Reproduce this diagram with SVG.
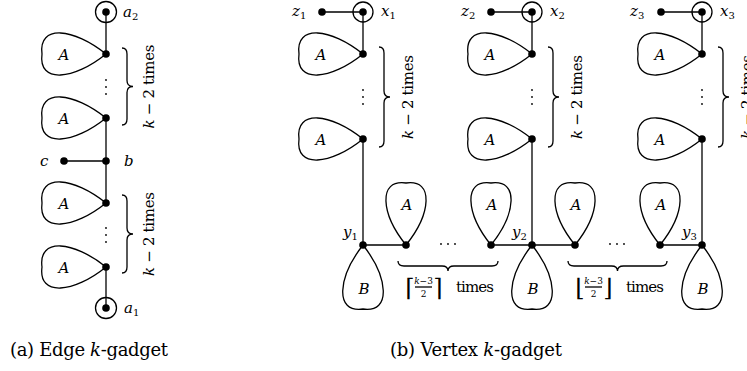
<svg xmlns="http://www.w3.org/2000/svg" xmlns:xlink="http://www.w3.org/1999/xlink" width="747" height="371" viewBox="0 0 747 371" font-family="DejaVu Serif, serif">
<style>
.ln{stroke:#000;stroke-width:1.3;fill:none}
.dot{fill:#000}
.ring{fill:none;stroke:#000;stroke-width:1.3}
text{font-family:'DejaVu Serif',serif}
.t{font-size:15px;fill:#000}
.m{font-style:italic}
.s{font-size:10px;font-style:normal}
.lab{font-size:15px;font-style:italic;fill:#000;text-anchor:middle}
.cap{font-size:18px;fill:#000}
.sm{font-size:9px;fill:#000;text-anchor:middle}
.br{font-size:24px;fill:#000;text-anchor:middle}
.rt{font-size:15px;fill:#000;text-anchor:middle}
</style>
<defs>
<path id="loopL" class="ln" d="M0,0 C-32,-26 -68,-30 -64,0 C-68,30 -32,26 0,0"/>
<path id="loopU" class="ln" d="M0,0 C-25,-31 -28.5,-66 0,-62 C28.5,-66 25,-31 0,0"/>
<path id="loopD" class="ln" d="M0,0 C-25,32 -29,68 0,64 C29,68 25,32 0,0"/>
</defs>

<g id="connectors" class="ln">
<line x1="106" y1="12" x2="106" y2="54"/>
<line x1="106" y1="118" x2="106" y2="203"/>
<line x1="64" y1="161" x2="106" y2="161"/>
<line x1="106" y1="267" x2="106" y2="308"/>
<line x1="322" y1="12" x2="363" y2="12"/>
<line x1="363" y1="12" x2="363" y2="54"/>
<line x1="363" y1="139" x2="363" y2="245"/>
<line x1="491" y1="12" x2="532" y2="12"/>
<line x1="532" y1="12" x2="532" y2="54"/>
<line x1="532" y1="139" x2="532" y2="245"/>
<line x1="661" y1="12" x2="702" y2="12"/>
<line x1="702" y1="12" x2="702" y2="54"/>
<line x1="702" y1="139" x2="702" y2="245"/>
<line x1="363" y1="245" x2="406" y2="245"/>
<line x1="491" y1="245" x2="575" y2="245"/>
<line x1="660" y1="245" x2="702" y2="245"/>
</g>

<g id="a2"><circle class="ring" cx="106" cy="12" r="10.5"/><circle class="dot" cx="106" cy="12" r="3.8"/><text class="t m" x="123" y="17">a<tspan class="s" dy="3">2</tspan></text></g>
<g id="eA1"><use xlink:href="#loopL" x="106" y="54"/><circle class="dot" cx="106" cy="54" r="3.8"/><text class="lab" x="64" y="60">A</text></g>
<g id="eA2"><use xlink:href="#loopL" x="106" y="118"/><circle class="dot" cx="106" cy="118" r="3.8"/><text class="lab" x="64" y="124">A</text></g>
<g id="eDots1"><circle class="dot" cx="106" cy="80" r="0.9"/><circle class="dot" cx="106" cy="87" r="0.9"/><circle class="dot" cx="106" cy="94" r="0.9"/></g>
<g id="eBrace1"><path class="ln" d="M122,48 Q127,48 127,54 L127,80.5 Q127,86.5 133,86.5 Q127,86.5 127,92.5 L127,119 Q127,125 122,125"/><text class="rt" transform="translate(154,86.5) rotate(-90)" textLength="84"><tspan class="m">k</tspan> − 2 times</text></g>
<g id="b"><circle class="dot" cx="106" cy="161" r="3.8"/><text class="t m" x="124" y="166">b</text></g>
<g id="c"><circle class="dot" cx="64" cy="161" r="3.8"/><text class="t m" x="40" y="166">c</text></g>
<g id="eA3"><use xlink:href="#loopL" x="106" y="203"/><circle class="dot" cx="106" cy="203" r="3.8"/><text class="lab" x="64" y="209">A</text></g>
<g id="eA4"><use xlink:href="#loopL" x="106" y="267"/><circle class="dot" cx="106" cy="267" r="3.8"/><text class="lab" x="64" y="273">A</text></g>
<g id="eDots2"><circle class="dot" cx="106" cy="228" r="0.9"/><circle class="dot" cx="106" cy="235" r="0.9"/><circle class="dot" cx="106" cy="242" r="0.9"/></g>
<g id="eBrace2"><path class="ln" d="M122,195 Q127,195 127,201 L127,228 Q127,234 133,234 Q127,234 127,240 L127,267 Q127,273 122,273"/><text class="rt" transform="translate(154,234) rotate(-90)" textLength="84"><tspan class="m">k</tspan> − 2 times</text></g>
<g id="a1"><circle class="ring" cx="106" cy="308" r="10.5"/><circle class="dot" cx="106" cy="308" r="3.8"/><text class="t m" x="124" y="313">a<tspan class="s" dy="3">1</tspan></text></g>

<g id="col1">
<g id="z1"><circle class="dot" cx="322" cy="12" r="3.8"/><text class="t m" x="292" y="16">z<tspan class="s" dy="3">1</tspan></text></g>
<g id="x1"><circle class="ring" cx="363" cy="12" r="10"/><circle class="dot" cx="363" cy="12" r="3.8"/><text class="t m" x="381" y="16">x<tspan class="s" dy="3">1</tspan></text></g>
<g id="vA11"><use xlink:href="#loopL" x="363" y="54"/><circle class="dot" cx="363" cy="54" r="3.8"/><text class="lab" x="321" y="60">A</text></g>
<g id="vA12"><use xlink:href="#loopL" x="363" y="139"/><circle class="dot" cx="363" cy="139" r="3.8"/><text class="lab" x="321" y="145">A</text></g>
<g id="vDots1"><circle class="dot" cx="363" cy="90" r="0.9"/><circle class="dot" cx="363" cy="97" r="0.9"/><circle class="dot" cx="363" cy="104" r="0.9"/></g>
<g id="vBrace1"><path class="ln" d="M379,47 Q384,47 384,53 L384,91 Q384,97 390,97 Q384,97 384,103 L384,141 Q384,147 379,147"/><text class="rt" transform="translate(413,97) rotate(-90)" textLength="84"><tspan class="m">k</tspan> − 2 times</text></g>
</g>
<g id="col2">
<g id="z2"><circle class="dot" cx="491" cy="12" r="3.8"/><text class="t m" x="461" y="16">z<tspan class="s" dy="3">2</tspan></text></g>
<g id="x2"><circle class="ring" cx="532" cy="12" r="10"/><circle class="dot" cx="532" cy="12" r="3.8"/><text class="t m" x="550" y="16">x<tspan class="s" dy="3">2</tspan></text></g>
<g id="vA21"><use xlink:href="#loopL" x="532" y="54"/><circle class="dot" cx="532" cy="54" r="3.8"/><text class="lab" x="490" y="60">A</text></g>
<g id="vA22"><use xlink:href="#loopL" x="532" y="139"/><circle class="dot" cx="532" cy="139" r="3.8"/><text class="lab" x="490" y="145">A</text></g>
<g id="vDots2"><circle class="dot" cx="532" cy="90" r="0.9"/><circle class="dot" cx="532" cy="97" r="0.9"/><circle class="dot" cx="532" cy="104" r="0.9"/></g>
<g id="vBrace2"><path class="ln" d="M548,47 Q553,47 553,53 L553,91 Q553,97 559,97 Q553,97 553,103 L553,141 Q553,147 548,147"/><text class="rt" transform="translate(582,97) rotate(-90)" textLength="84"><tspan class="m">k</tspan> − 2 times</text></g>
</g>
<g id="col3">
<g id="z3"><circle class="dot" cx="661" cy="12" r="3.8"/><text class="t m" x="630" y="16">z<tspan class="s" dy="3">3</tspan></text></g>
<g id="x3"><circle class="ring" cx="702" cy="12" r="10"/><circle class="dot" cx="702" cy="12" r="3.8"/><text class="t m" x="720" y="16">x<tspan class="s" dy="3">3</tspan></text></g>
<g id="vA31"><use xlink:href="#loopL" x="702" y="54"/><circle class="dot" cx="702" cy="54" r="3.8"/><text class="lab" x="660" y="60">A</text></g>
<g id="vA32"><use xlink:href="#loopL" x="702" y="139"/><circle class="dot" cx="702" cy="139" r="3.8"/><text class="lab" x="660" y="145">A</text></g>
<g id="vDots3"><circle class="dot" cx="702" cy="90" r="0.9"/><circle class="dot" cx="702" cy="97" r="0.9"/><circle class="dot" cx="702" cy="104" r="0.9"/></g>
<g id="vBrace3"><path class="ln" d="M718,47 Q723,47 723,53 L723,91 Q723,97 729,97 Q723,97 723,103 L723,141 Q723,147 718,147"/><text class="rt" transform="translate(752,97) rotate(-90)" textLength="84"><tspan class="m">k</tspan> − 2 times</text></g>
</g>

<g id="y1"><use xlink:href="#loopD" x="363" y="245"/><circle class="dot" cx="363" cy="245" r="3.8"/><text class="t m" x="343" y="237">y<tspan class="s" dy="3">1</tspan></text><text class="lab" x="364" y="294">B</text></g>
<g id="hA1"><use xlink:href="#loopU" x="406" y="245"/><circle class="dot" cx="406" cy="245" r="3.8"/><text class="lab" x="407" y="210">A</text></g>
<g id="hA2"><use xlink:href="#loopU" x="491" y="245"/><circle class="dot" cx="491" cy="245" r="3.8"/><text class="lab" x="492" y="210">A</text></g>
<g id="hDots1"><circle class="dot" cx="441" cy="244" r="0.9"/><circle class="dot" cx="448" cy="244" r="0.9"/><circle class="dot" cx="455" cy="244" r="0.9"/></g>
<g id="hBrace1"><path class="ln" d="M398,261 Q398,266 404,266 L442,266 Q448,266 448,271 Q448,266 454,266 L492,266 Q498,266 498,261"/>
<text class="br" x="410" y="296">⌈</text><text class="sm" x="423.5" y="284"><tspan class="m">k</tspan>−3</text><line class="ln" x1="415" y1="287" x2="432" y2="287" stroke-width="0.8"/><text class="sm" x="423.5" y="297">2</text><text class="br" x="438" y="296">⌉</text><text class="t" x="456" y="292" textLength="38">times</text></g>
<g id="y2"><use xlink:href="#loopD" x="532" y="245"/><circle class="dot" cx="532" cy="245" r="3.8"/><text class="t m" x="512" y="237">y<tspan class="s" dy="3">2</tspan></text><text class="lab" x="533" y="294">B</text></g>
<g id="hA3"><use xlink:href="#loopU" x="575" y="245"/><circle class="dot" cx="575" cy="245" r="3.8"/><text class="lab" x="576" y="210">A</text></g>
<g id="hA4"><use xlink:href="#loopU" x="660" y="245"/><circle class="dot" cx="660" cy="245" r="3.8"/><text class="lab" x="661" y="210">A</text></g>
<g id="hDots2"><circle class="dot" cx="610" cy="244" r="0.9"/><circle class="dot" cx="617" cy="244" r="0.9"/><circle class="dot" cx="624" cy="244" r="0.9"/></g>
<g id="hBrace2"><path class="ln" d="M568,261 Q568,266 574,266 L611.5,266 Q617.5,266 617.5,271 Q617.5,266 623.5,266 L661,266 Q667,266 667,261"/>
<text class="br" x="580" y="296">⌊</text><text class="sm" x="593.5" y="284"><tspan class="m">k</tspan>−3</text><line class="ln" x1="585" y1="287" x2="602" y2="287" stroke-width="0.8"/><text class="sm" x="593.5" y="297">2</text><text class="br" x="608" y="296">⌋</text><text class="t" x="626" y="292" textLength="38">times</text></g>
<g id="y3"><use xlink:href="#loopD" x="702" y="245"/><circle class="dot" cx="702" cy="245" r="3.8"/><text class="t m" x="682" y="237">y<tspan class="s" dy="3">3</tspan></text><text class="lab" x="703" y="294">B</text></g>

<g id="captions">
<text class="cap" x="10" y="356" textLength="158">(a) Edge <tspan class="m">k</tspan>-gadget</text>
<text class="cap" x="390" y="356" textLength="172">(b) Vertex <tspan class="m">k</tspan>-gadget</text>
</g>
</svg>
